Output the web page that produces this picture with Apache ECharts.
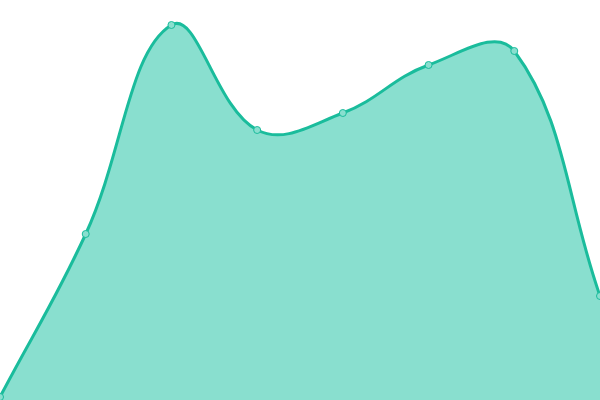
<!DOCTYPE html>
<html>
<head>
<meta charset="utf-8">
<script src="https://cdn.jsdelivr.net/npm/echarts@6/dist/echarts.min.js"></script>
<style>
  html, body { margin: 0; padding: 0; background: #fff; }
  #main { width: 600px; height: 400px; }
</style>
</head>
<body>
<div id="main"></div>
<script>
// 数据
const categories = ['1', '2', '3', '4', '5', '6', '7', '8']
const values = [0.75, 41.5, 93.75, 67.5, 71.75, 83.75, 87.25, 26]

const lineColor = '#1abc9c'
const fillColor = '#89dfcf'
const tension = 0.4 // 曲线张力

// 按相邻点距离计算贝塞尔控制点（会越过数据点，与参考图一致）
function buildPath(pts) {
  const n = pts.length
  const cps = pts.map((p1, i) => {
    const p0 = pts[i - 1] || p1
    const p2 = pts[i + 1] || p1
    const d01 = Math.hypot(p1[0] - p0[0], p1[1] - p0[1])
    const d12 = Math.hypot(p2[0] - p1[0], p2[1] - p1[1])
    let s01 = d01 / (d01 + d12)
    let s12 = d12 / (d01 + d12)
    if (isNaN(s01)) s01 = 0
    if (isNaN(s12)) s12 = 0
    const fa = tension * s01
    const fb = tension * s12
    return {
      prev: [p1[0] - fa * (p2[0] - p0[0]), p1[1] - fa * (p2[1] - p0[1])],
      next: [p1[0] + fb * (p2[0] - p0[0]), p1[1] + fb * (p2[1] - p0[1])],
    }
  })
  let d = 'M' + pts[0][0] + ',' + pts[0][1]
  for (let i = 1; i < n; i++) {
    const a = cps[i - 1].next
    const b = cps[i].prev
    d += 'C' + a[0] + ',' + a[1] + ',' + b[0] + ',' + b[1] + ',' + pts[i][0] + ',' + pts[i][1]
  }
  return d
}

function renderItem(params, api) {
  if (params.dataIndex !== 0) return null
  const pts = values.map((v, i) => api.coord([i, v]))
  const base = api.coord([0, 0])[1]
  const linePath = buildPath(pts)
  const areaPath = linePath +
    'L' + pts[pts.length - 1][0] + ',' + base +
    'L' + pts[0][0] + ',' + base + 'Z'
  return {
    type: 'group',
    children: [
      {
        type: 'path',
        shape: { pathData: areaPath },
        style: { fill: fillColor, stroke: null },
      },
      {
        type: 'path',
        shape: { pathData: linePath },
        style: { fill: null, stroke: lineColor, lineWidth: 3 },
      },
    ],
  }
}

const chart = echarts.init(document.getElementById('main'))

chart.setOption({
  animation: false,
  grid: { top: 0, left: 0, right: 0, bottom: 0 },
  xAxis: {
    type: 'category',
    data: categories,
    boundaryGap: false,
    show: false,
  },
  yAxis: {
    type: 'value',
    min: 0,
    max: 100,
    show: false,
  },
  series: [
    {
      type: 'custom',
      data: values.map((v, i) => [i, v]),
      encode: { x: 0, y: 1 },
      renderItem: renderItem,
      clip: false,
      z: 1,
    },
    {
      // 数据点
      type: 'line',
      data: values,
      symbol: 'circle',
      symbolSize: 7,
      lineStyle: { opacity: 0 },
      itemStyle: {
        color: fillColor,
        borderColor: lineColor,
        borderWidth: 1,
      },
      z: 3,
    },
  ],
})
</script>
</body>
</html>
